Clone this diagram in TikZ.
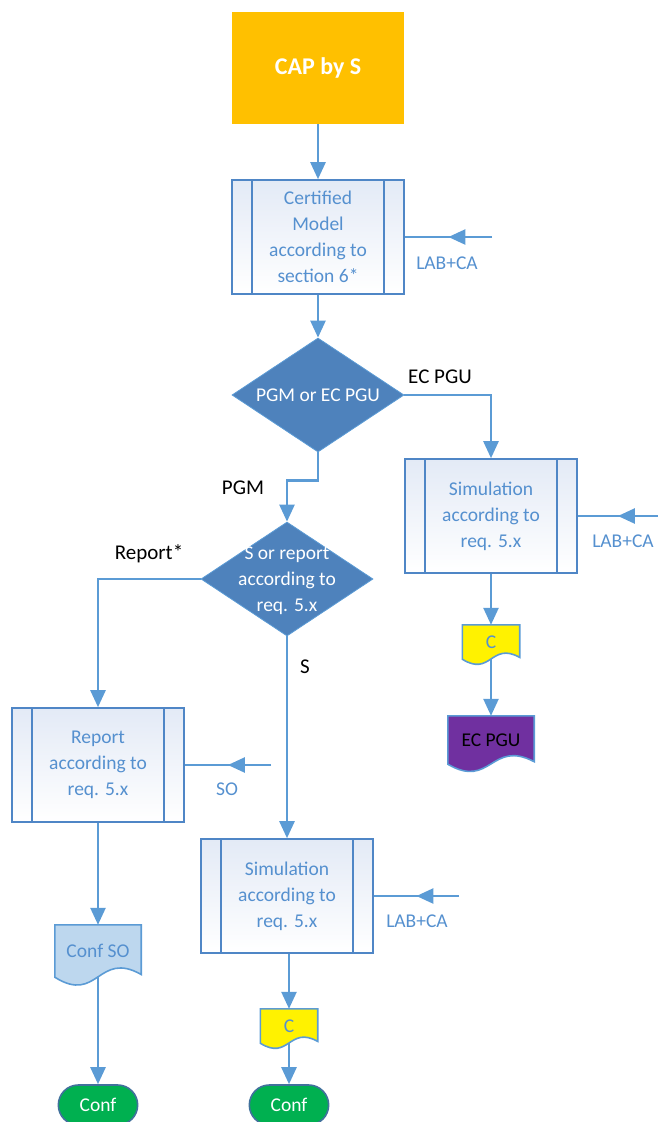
\documentclass[tikz,border=0pt]{standalone}
\usepackage{fontspec}
\setmainfont{Carlito}
\usetikzlibrary{arrows.meta,shapes.geometric,shapes.misc,calc,decorations.markings}
\pgfdeclarelayer{bg}
\pgfsetlayers{bg,main}

\definecolor{conncol}{HTML}{5B9BD5}
\definecolor{procborder}{HTML}{4F86C6}
\definecolor{proctop}{HTML}{E3EAF6}
\definecolor{proctext}{HTML}{5590CF}
\definecolor{decfill}{HTML}{4E82BC}
\definecolor{capfill}{HTML}{FFC000}
\definecolor{confsofill}{HTML}{BDD7EE}
\definecolor{ecfill}{HTML}{7030A0}
\definecolor{termfill}{HTML}{00B050}
\definecolor{termborder}{HTML}{41719C}

\newcommand\txtsize{\fontsize{19.5}{26}\selectfont}

% inner bars of a predefined-process box
\newcommand\innerbars[1]{%
  \draw[procborder, line width=1.6pt] ([xshift=21pt]#1.north west) -- ([xshift=21pt]#1.south west);
  \draw[procborder, line width=1.6pt] ([xshift=-21pt]#1.north east) -- ([xshift=-21pt]#1.south east);}

% document outline with a wavy bottom edge, drawn behind node #1
\newcommand\docshape[2]{%
  \begin{pgfonlayer}{bg}
  \draw[fill=#2, draw=conncol, line width=1.6pt]
    let \p1=(#1.north west), \p2=(#1.south east),
        \n1={\x2-\x1}, \n2={0.13*(\y1-\y2)} in
    (\x1,\y1) -- (\x2,\y1) -- (\x2,\y2+0.4*\n2)
    .. controls (\x1+0.5*\n1,\y2+4*\n2) and (\x1+0.5*\n1,\y2-4*\n2) .. (\x1,\y2) -- cycle;
  \end{pgfonlayer}}

\begin{document}
\begin{tikzpicture}[x=1pt, y=-1pt,
  conn/.style={draw=conncol, line width=2.5pt, -{Triangle[length=17pt,width=15pt]}},
  feed/.style={draw=conncol, line width=2.5pt, postaction={decorate},
    decoration={markings, mark=at position 0.5 with {\arrow{Triangle[length=17pt,width=15pt]}}}},
  capbox/.style={rectangle, fill=capfill, minimum width=172pt, minimum height=112pt,
    text=white, font=\fontsize{24}{28}\selectfont\bfseries},
  proc/.style={rectangle, draw=procborder, line width=1.6pt, top color=proctop, bottom color=white,
    minimum width=172pt, minimum height=114pt, text=proctext, align=center, font=\txtsize},
  decision/.style={diamond, fill=decfill, draw=conncol, line width=0.8pt, inner sep=0pt,
    minimum width=172pt, minimum height=114pt},
  dtext/.style={text=white, align=center, font=\txtsize},
  doc/.style={rectangle, inner sep=0pt, font=\txtsize},
  term/.style={rounded rectangle, fill=termfill, draw=termborder, line width=1.6pt,
    minimum width=86pt, minimum height=40pt, text=white, font=\txtsize},
  lblblue/.style={text=proctext, font=\txtsize},
  lblblack/.style={text=black, font=\fontsize{21}{25}\selectfont}]

\useasboundingbox (0,0) rectangle (658,1122);

% main nodes
\node[capbox] (cap) at (318,68) {CAP by S};
\node[proc] (cert) at (318,237) {Certified\\Model\\according to\\section 6*};
\node[decision] (d1) at (318,395) {};
\node[dtext] (d1t) at (318,395) {PGM or EC PGU};
\node[proc] (sim1) at (491,516) {Simulation\\according to\\req. 5.x};
\node[decision] (d2) at (287,579) {};
\node[dtext] (d2t) at (287,581) {S or report\\according to\\req. 5.x};
\node[proc] (rep) at (98,765) {Report\\according to\\req. 5.x};
\node[proc] (sim2) at (287,896) {Simulation\\according to\\req. 5.x};

% documents
\node[doc, minimum width=57pt, minimum height=34pt, text=proctext] (c1) at (491,642) {C};
\node[doc, minimum width=86pt, minimum height=48pt, text=black] (ecpgu) at (491,740) {EC PGU};
\node[doc, minimum width=86pt, minimum height=52pt, text=proctext] (confso) at (98,951) {Conf SO};
\node[doc, minimum width=57pt, minimum height=34pt, text=proctext] (c2) at (289,1026) {C};
\docshape{c1}{yellow}
\docshape{ecpgu}{ecfill}
\docshape{confso}{confsofill}
\docshape{c2}{yellow}

% terminals
\node[term] (conf1) at (98,1105) {Conf};
\node[term] (conf2) at (289,1105) {Conf};

\innerbars{cert}
\innerbars{sim1}
\innerbars{rep}
\innerbars{sim2}

% flow
\draw[conn] (cap) -- (cert);
\draw[conn] (cert) -- (d1);
\draw[conn] (d1.east) -| (sim1.north);
\draw[conn] (d1.south) -- ++(0,28) -| (d2.north);
\draw[conn] (d2.west) -| (rep.north);
\draw[conn] (d2.south) -- (sim2.north);
\draw[conn] (rep) -- (confso);
\draw[conn] (confso.south) -- (conf1.north);
\draw[conn] (sim1.south) -- (c1.north);
\draw[conn] (c1.south) -- (ecpgu.north);
\draw[conn] ([xshift=2pt]sim2.south) -- (c2.north);
\draw[conn] (c2.south) -- (conf2.north);

% side inputs
\coordinate (f1) at (492,237);
\coordinate (f2) at (658,516);
\coordinate (f3) at (271,765);
\coordinate (f4) at (459,896);
\draw[feed] (f1) -- (cert.east);
\draw[feed] (f2) -- (sim1.east);
\draw[feed] (f3) -- (rep.east);
\draw[feed] (f4) -- (sim2.east);

% labels
\node[lblblue] (l1) at (447,263) {LAB+CA};
\node[lblblue] (l2) at (623,541) {LAB+CA};
\node[lblblue] (l3) at (227,789) {SO};
\node[lblblue] (l4) at (417,921) {LAB+CA};
\node[lblblack] (l5) at (440,377) {EC PGU};
\node[lblblack] (l6) at (243,488) {PGM};
\node[lblblack] (l7) at (149,554) {Report*};
\node[lblblack] (l8) at (305,667) {S};
\end{tikzpicture}
\end{document}
